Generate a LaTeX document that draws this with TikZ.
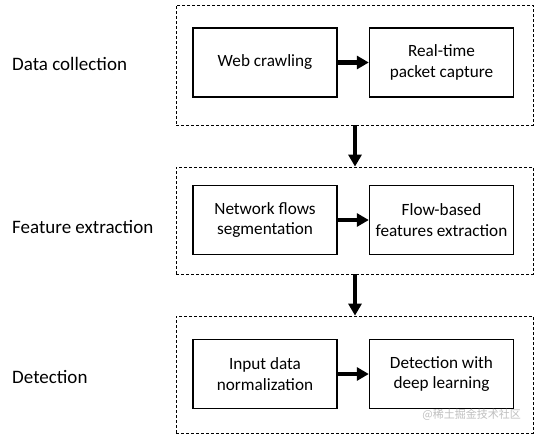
\documentclass[tikz,border=0pt]{standalone}
\usepackage{fontspec}
\setmainfont{Carlito}
\newfontfamily\cjkfont{Noto Sans CJK SC}
\usetikzlibrary{arrows.meta}
\begin{document}
\begin{tikzpicture}[x=1pt,y=-1pt,
  stage/.style={draw, line width=0.8pt, dash pattern=on 3pt off 2pt},
  proc/.style={draw, line width=1.4pt, minimum width=144pt, minimum height=69pt, align=center, inner sep=0pt, font=\fontsize{17.2}{20.5}\selectfont},
  lab/.style={anchor=west, font=\fontsize{19}{22}\selectfont, inner sep=0pt},
  flow/.style={line width=4.5pt, -{Triangle[length=12pt,width=13pt]}}]
\useasboundingbox (0,0) rectangle (534,434);
% stage frames
\node[stage, minimum width=357pt, minimum height=120pt, inner sep=0pt] (s1) at (354.5,65) {};
\node[stage, minimum width=357pt, minimum height=107pt, inner sep=0pt] (s2) at (354.5,220.5) {};
\node[stage, minimum width=357pt, minimum height=117pt, inner sep=0pt] (s3) at (354.5,374.5) {};
% processes
\node[proc] (a1) at (265,62.5) {Web crawling};
\node[proc] (a2) at (441.5,62.5) {Real-time\\packet capture};
\node[proc] (b1) at (265,220) {Network flows\\segmentation};
\node[proc] (b2) at (441.5,220) {Flow-based\\features extraction};
\node[proc] (c1) at (265,374) {Input data\\normalization};
\node[proc] (c2) at (441.5,374) {Detection with\\deep learning};
% labels
\node[lab] (l1) at (12,64) {Data collection};
\node[lab] (l2) at (12,227) {Feature extraction};
\node[lab] (l3) at (12,377) {Detection};
% arrows
\draw[flow] (a1.east) -- (a2.west);
\draw[flow] (b1.east) -- (b2.west);
\draw[flow] (c1.east) -- (c2.west);
\draw[flow] (s1.south -| 355,0) -- (s2.north -| 355,0);
\draw[flow] (s2.south -| 355,0) -- (s3.north -| 355,0);
% watermark
\node[anchor=east, text=black!25, font=\cjkfont\fontsize{11}{13}\selectfont, inner sep=0pt] (wm) at (521,415) {@稀土掘金技术社区};
\end{tikzpicture}
\end{document}
